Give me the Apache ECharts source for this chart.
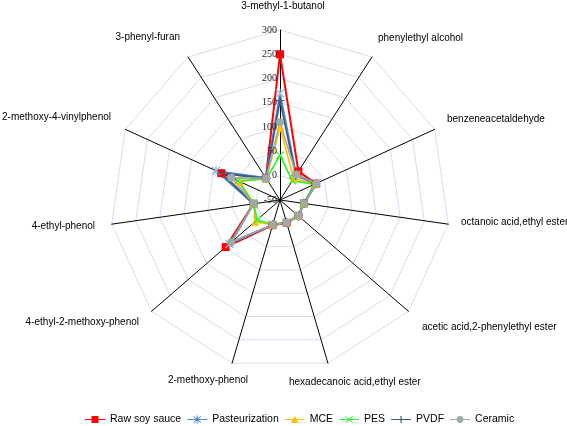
<!DOCTYPE html>
<html><head><meta charset="utf-8">
<script src="https://cdn.jsdelivr.net/npm/echarts@6/dist/echarts.min.js"></script>
<style>html,body{margin:0;padding:0;background:#fff}#c{width:567px;height:426px}</style>
</head><body><div id="c"></div>
<script>
// ---- data (clockwise from top) ----
var indicators = ['3-methyl-1-butanol','phenylethyl alcohol','benzeneacetaldehyde','octanoic acid,ethyl ester','acetic acid,2-phenylethyl ester','hexadecanoic acid,ethyl ester','2-methoxy-phenol','4-ethyl-2-methoxy-phenol','4-ethyl-phenol','2-methoxy-4-vinylphenol','3-phenyl-furan'];
var seriesNames = ['Raw soy sauce','Pasteurization','MCE','PES','PVDF','Ceramic'];
var rawSoySauce    = [250, 20, 31, 0, 0, -1, 4, 98, 5, 83, 4];
var pasteurization = [170, 12, 34, 0, 0, -1, 3, 88, 5, 95, 4];
var mce            = [100, 2, 30, -1, -1, -2, 3, 18, 4, 42, 2];
var pes            = [42, -3, 28, -1, -1, -2, 3, 12, 5, 45, 2];
var pvdf           = [155, 10, 31, 0, 0, -1, 3, 82, 5, 82, 3];
var ceramic        = [110, 12, 32, 0, 0, -1, 3, 83, 5, 60, 3];
var axisMin = -50, axisMax = 300, axisStep = 50;

// ---- styles / layout ----
var colors = ['#FF0000','#4A88C8','#FFC000','#33EE33','#3E5A8C','#A0AAA2'];
var markerColors = ['#FF0000','#8FBCE8','#FFC000','#33EE33','#3E5A8C','#A0AAA2'];
var P_X = 'path://M1,0L5,4L9,0L10,1L6,5L10,9L9,10L5,6L1,10L0,9L4,5L0,1Z';
var P_PLUS = 'path://M4.4,0H5.6V4.4H10V5.6H5.6V10H4.4V5.6H0V4.4H4.4Z';
var P_STAR = 'path://M1,0L5,4L9,0L10,1L6,5L10,9L9,10L5,6L1,10L0,9L4,5L0,1ZM4.4,0H5.6V10H4.4Z';
var symbols = ['rect', P_STAR, 'triangle', P_X, P_PLUS, 'circle'];
var symSizes = [8, 9, 8, 8, 9, 8];
var legendIcons = [
  'path://M0,4.4H20V5.6H0ZM6.5,1.5H13.5V8.5H6.5Z',
  'path://M0,4.4H20V5.6H0ZM6.5,1.5L10,4.2L13.5,1.5L14,2.1L10.8,5L14,7.9L13.5,8.5L10,5.8L6.5,8.5L6,7.9L9.2,5L6,2.1ZM9.5,1H10.5V9H9.5Z',
  'path://M0,4.4H20V5.6H0ZM10,1.5L13.8,8.5H6.2Z',
  'path://M0,4.4H20V5.6H0ZM6.5,1.5L10,4.2L13.5,1.5L14,2.1L10.8,5L14,7.9L13.5,8.5L10,5.8L6.5,8.5L6,7.9L9.2,5L6,2.1Z',
  'path://M0,4.4H20V5.6H0ZM9.4,1.5H10.6V8.5H9.4Z',
  'path://M0,4.4H20V5.6H0ZM10,1.6A3.4,3.4 0 1 1 9.99,1.6Z'
];
var namePos = [
  [283, 6, 'center'],[378, 38, 'left'],[447, 119, 'left'],[461, 222, 'left'],
  [422, 327, 'left'],[289, 382, 'left'],[248, 380, 'right'],[139, 322, 'right'],
  [95, 226, 'right'],[111, 117, 'right'],[180, 37, 'right']
];

// ECharts radar places indicators counter-clockwise; reorder to draw clockwise
var order = [0];
for (var k = indicators.length - 1; k >= 1; k--) order.push(k);
function reorder(arr) { return order.map(function (j) { return arr[j]; }); }

var allData = [rawSoySauce, pasteurization, mce, pes, pvdf, ceramic];
var chart = echarts.init(document.getElementById('c'));
var series = [{
  type: 'radar',
  data: allData.map(function (vals, i) {
    return {
      name: seriesNames[i], value: reorder(vals),
      symbol: symbols[i], symbolSize: symSizes[i],
      lineStyle: { color: colors[i], width: i === 0 ? 2 : 1.7 },
      itemStyle: { color: markerColors[i] }
    };
  })
}];

var graphics = indicators.map(function (n, i) {
  return { type: 'text', x: namePos[i][0], y: namePos[i][1], silent: true,
    style: { text: n, fill: '#000', font: '10px "Liberation Sans", Arial, sans-serif',
      align: namePos[i][2], verticalAlign: 'middle' } };
});

chart.setOption({
  backgroundColor: '#fff',
  animation: false,
  color: colors,
  legend: {
    top: 409, left: 80, itemGap: 6, itemWidth: 20, itemHeight: 10,
    textStyle: { fontFamily: '"Liberation Sans", Arial, sans-serif', fontSize: 10.5, color: '#000' },
    data: seriesNames.map(function (n, i) { return { name: n, icon: legendIcons[i], itemStyle: { color: colors[i] } }; })
  },
  radar: {
    center: [280, 200], radius: 170, startAngle: 90, shape: 'polygon', splitNumber: 7,
    indicator: reorder(indicators).map(function (n) { return { name: n, min: axisMin, max: axisMax }; }),
    axisName: { show: false },
    axisLine: { lineStyle: { color: '#000', width: 1 } },
    splitLine: { lineStyle: { color: '#DCDCF0', width: 1 } },
    splitArea: { show: false },
    axisTick: { show: false },
    axisLabel: { show: false }
  },
  polar: { center: [280, 200], radius: 170 },
  angleAxis: { show: false, startAngle: 90, min: 0, max: 360 },
  radiusAxis: {
    min: axisMin, max: axisMax, interval: axisStep, z: 10,
    axisLine: { show: false }, axisTick: { show: false }, splitLine: { show: false },
    axisLabel: { show: true, fontFamily: '"Liberation Serif", "Times New Roman", serif', fontSize: 10, color: '#222', margin: 3 }
  },
  graphic: graphics,
  series: series
});
</script></body></html>
